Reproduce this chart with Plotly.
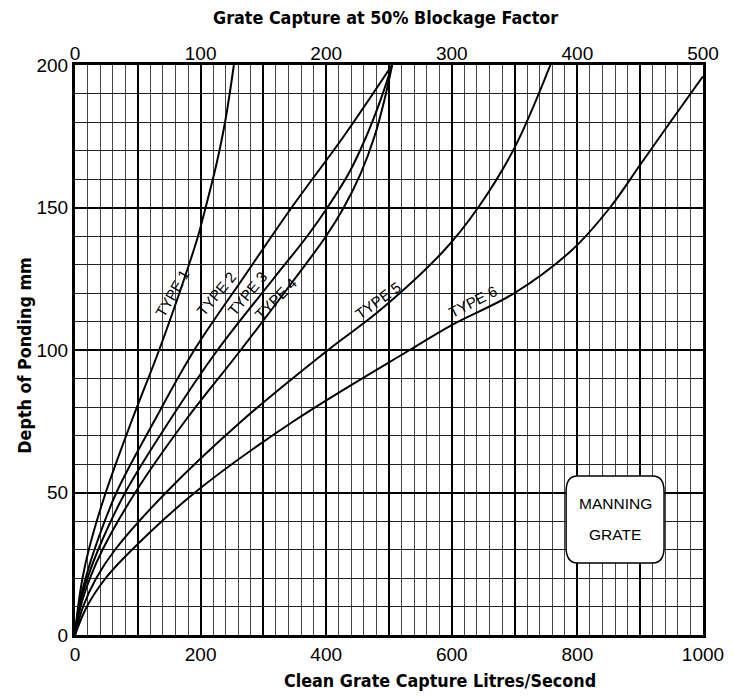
import plotly.graph_objects as go

# Clean grate capture (L/s) read at given depths of ponding (mm), per grate type
depth1 = [0, 10, 20, 30, 50, 75, 100, 125, 140, 150, 165, 180, 200]
type1 = [0, 5, 12, 22, 49, 90, 134, 174, 196, 208, 225, 239, 253]
depth2 = [0, 10, 20, 30, 50, 75, 100, 125, 150, 175, 200]
type2 = [0, 6, 17, 31, 66, 126, 190, 267, 345, 428, 505]
depth3 = [0, 10, 20, 30, 50, 75, 100, 125, 140, 150, 162, 175, 188, 200]
type3 = [0, 7, 20, 37, 80, 150, 227, 316, 370, 402, 436, 464, 487, 505]
depth4 = [0, 10, 20, 30, 50, 75, 100, 125, 140, 150, 162, 175, 188, 200]
type4 = [0, 9, 24, 44, 96, 175, 264, 350, 400, 428, 455, 477, 493, 505]
depth5 = [0, 10, 20, 30, 50, 75, 100, 114, 135, 150, 171, 200]
type5 = [0, 13, 34, 64, 145, 265, 403, 486, 588, 642, 700, 757]
depth6 = [0, 10, 20, 28, 50, 75, 100, 109, 120, 135, 150, 165, 180, 196]
type6 = [0, 19, 49, 82, 191, 348, 533, 602, 700, 791, 852, 900, 948, 1000]

labels = ["TYPE 1", "TYPE 2", "TYPE 3", "TYPE 4", "TYPE 5", "TYPE 6"]
label_x = [154, 225, 274, 320, 482, 634]
label_y = [120, 120, 120, 118, 117.5, 117]
label_angle = [-60, -50, -50, -45, -36, -27]

bottom_ticks = [0, 100, 200, 300, 400, 500, 600, 700, 800, 900, 1000]
bottom_text = ["0", "", "200", "", "400", "", "600", "", "800", "", "1000"]
top_ticks = [0, 100, 200, 300, 400, 500]
y_ticks = [0, 50, 100, 150, 200]

THIN = "Liberation Sans, Arial, sans-serif"
TICKFONT = dict(family=THIN, size=19, color="black")
TITLEFONT = dict(family="DejaVu Sans Condensed, DejaVu Sans, sans-serif", size=17.8, color="black", weight="bold")
LABELFONT = dict(family=THIN, size=15, color="black")

fig = go.Figure()
series = [(type1, depth1), (type2, depth2), (type3, depth3), (type4, depth4), (type5, depth5), (type6, depth6)]
for (xs, ys), name in zip(series, labels):
    fig.add_trace(go.Scatter(x=xs, y=ys, mode="lines", name=name,
                             line=dict(color="black", width=2, shape="spline", smoothing=1.0),
                             showlegend=False, hoverinfo="skip"))

# invisible trace to anchor the top axis
fig.add_trace(go.Scatter(x=[0, 500], y=[0, 0], xaxis="x2", yaxis="y", mode="markers",
                         marker=dict(opacity=0), showlegend=False, hoverinfo="skip"))

for t, x, y, a in zip(labels, label_x, label_y, label_angle):
    fig.add_annotation(x=x, y=y, text=t, showarrow=False, textangle=a, font=LABELFONT)

# Manning grate box (rounded)
x0, x1, y0, y1 = 782, 938, 25.3, 55.8
rx, ry = 18, 5.5
path = (f"M {x0+rx},{y0} L {x1-rx},{y0} Q {x1},{y0} {x1},{y0+ry} "
        f"L {x1},{y1-ry} Q {x1},{y1} {x1-rx},{y1} L {x0+rx},{y1} "
        f"Q {x0},{y1} {x0},{y1-ry} L {x0},{y0+ry} Q {x0},{y0} {x0+rx},{y0} Z")
fig.add_shape(type="path", path=path, xref="x", yref="y",
              line=dict(color="black", width=1.5), fillcolor="white", layer="above")
BOXFONT = dict(family=THIN, size=15.5, color="black")
fig.add_annotation(x=860, y=46.3, text="MANNING", showarrow=False, font=BOXFONT)
fig.add_annotation(x=860, y=35.2, text="GRATE", showarrow=False, font=BOXFONT)

fig.add_annotation(x=0.495, y=1.0, xref="paper", yref="paper", yshift=48, yanchor="middle",
                   text="Grate Capture at 50% Blockage Factor", showarrow=False, font=TITLEFONT)
fig.add_annotation(x=0.581, y=0.0, xref="paper", yref="paper", yshift=-45, yanchor="middle",
                   text="Clean Grate Capture Litres/Second", showarrow=False, font=TITLEFONT)
fig.add_annotation(x=0.0, y=0.49, xref="paper", yref="paper", xshift=-50, xanchor="center",
                   text="Depth of Ponding mm", textangle=-90, showarrow=False, font=TITLEFONT)

# page body adds an 8px offset, so margins are shifted to keep plot area at 75..703 x 65..635
fig.update_layout(
    width=733, height=698,
    margin=dict(l=67, r=38, t=57, b=71),
    plot_bgcolor="white", paper_bgcolor="white",
    xaxis=dict(range=[0, 1000], tickvals=bottom_ticks, ticktext=bottom_text, ticks="",
               showgrid=True, gridcolor="black", gridwidth=2.4, zeroline=False,
               minor=dict(dtick=20, showgrid=True, gridcolor="#444", gridwidth=1),
               showline=True, linecolor="black", linewidth=3, mirror=True,
               tickfont=TICKFONT, fixedrange=True, automargin=False),
    xaxis2=dict(range=[0, 500], overlaying="x", side="top", tickvals=top_ticks, ticks="",
                showgrid=False, zeroline=False, showline=False, tickfont=TICKFONT,
                fixedrange=True, automargin=False),
    yaxis=dict(range=[0, 200], tickvals=y_ticks, ticks="",
               showgrid=True, gridcolor="black", gridwidth=2.4, zeroline=False,
               minor=dict(dtick=10, showgrid=True, gridcolor="#222", gridwidth=1),
               showline=True, linecolor="black", linewidth=3, mirror=True,
               tickfont=TICKFONT, fixedrange=True, automargin=False),
)

fig.write_html("out.html")
